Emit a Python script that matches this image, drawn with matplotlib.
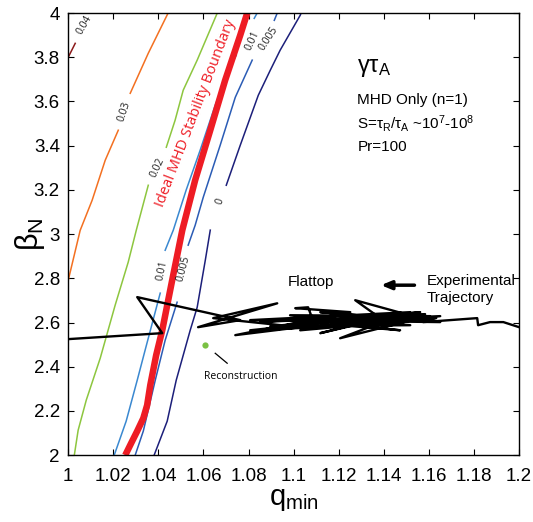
import numpy as np
import matplotlib
matplotlib.use('Agg')
from matplotlib import pyplot as plt

plt.rcParams['font.family'] = ['Liberation Sans', 'DejaVu Sans']
plt.rcParams['mathtext.fontset'] = 'custom'
plt.rcParams['mathtext.rm'] = 'Liberation Sans'
plt.rcParams['mathtext.it'] = 'Liberation Sans'

# growth-rate contours (q_min, beta_N), split where the inline label sits
c004_q = [1.0, 1.0031]
c004_b = [3.80, 3.863]

c003_q = [[1.0, 1.0053, 1.0106, 1.0164, 1.0222], [1.0275, 1.0355, 1.0443]]
c003_b = [[2.791, 3.017, 3.153, 3.334, 3.470], [3.637, 3.818, 4.0]]

c002_q = [[1.0027, 1.0044, 1.0080, 1.0142, 1.0208, 1.0266, 1.0302, 1.0355],
          [1.0435, 1.0474, 1.0510, 1.0572, 1.0661]]
c002_b = [[2.0, 2.113, 2.249, 2.439, 2.678, 2.873, 3.018, 3.221],
          [3.393, 3.515, 3.651, 3.787, 4.0]]

c001_q = [[1.0204, 1.0257, 1.0306, 1.0341, 1.0408],
          [1.0430, 1.0466, 1.0523, 1.0585, 1.0652, 1.0710, 1.0745],
          [1.0825, 1.0838]]
c001_b = [[2.0, 2.154, 2.339, 2.475, 2.733],
          [2.927, 3.018, 3.199, 3.379, 3.583, 3.741, 3.809],
          [3.976, 4.0]]

c0005_q = [[1.0297, 1.0333, 1.0386, 1.0430, 1.0483],
           [1.0532, 1.0563, 1.0599, 1.0674, 1.0741, 1.0816],
           [1.0914, 1.0927]]
c0005_b = [[2.0, 2.109, 2.339, 2.520, 2.692],
           [2.950, 3.040, 3.167, 3.402, 3.619, 3.787],
           [3.967, 4.0]]

c0_q = [[1.0381, 1.0439, 1.0479, 1.0541, 1.0572, 1.0608, 1.0630],
        [1.0701, 1.0763, 1.0843, 1.0896, 1.0940, 1.1029, 1.1033]]
c0_b = [[2.0, 2.154, 2.339, 2.565, 2.669, 2.882, 3.018],
        [3.221, 3.402, 3.628, 3.741, 3.832, 3.990, 4.0]]

# ideal MHD boundary
ideal_q = [1.0253, 1.0279, 1.0306, 1.0333, 1.0350, 1.0364, 1.0390, 1.0417,
           1.0461, 1.0506, 1.0563, 1.0630, 1.0696, 1.0763, 1.0794]
ideal_b = [2.0, 2.054, 2.109, 2.167, 2.226, 2.317, 2.452, 2.565,
           2.791, 3.018, 3.244, 3.470, 3.696, 3.900, 4.0]

# experimental trajectory
traj_q = [1.0, 1.0417, 1.0306, 1.0763, 1.0576, 1.0927, 1.0643, 1.1029, 1.0741,
          1.1251, 1.1007, 1.1064, 1.1082, 1.0851, 1.1472, 1.1206, 1.1561, 1.1273,
          1.1384, 1.1118, 1.1517, 1.0807, 1.1605, 1.1029, 1.1650, 1.1295,
          1.0807, 1.1561, 1.0896, 1.1517, 1.0984, 1.1605, 1.1162, 1.1472,
          1.0940, 1.1650, 1.1118, 1.1539, 1.1029, 1.1583, 1.1228, 1.1632,
          1.1574, 1.1814, 1.1818, 1.1871, 1.1930, 1.2]
traj_b = [2.525, 2.552, 2.715, 2.611, 2.579, 2.687, 2.620, 2.579, 2.543,
          2.647, 2.665, 2.669, 2.620, 2.602, 2.633, 2.529, 2.620, 2.701,
          2.620, 2.552, 2.647, 2.611, 2.611, 2.602, 2.629, 2.588,
          2.565, 2.647, 2.583, 2.588, 2.633, 2.629, 2.602, 2.565,
          2.611, 2.602, 2.647, 2.611, 2.565, 2.638, 2.629, 2.620,
          2.602, 2.620, 2.588, 2.602, 2.602, 2.579]

recon_q, recon_b = 1.0608, 2.497

fig = plt.figure(figsize=(5.33, 5.22), dpi=100)
ax = fig.add_axes([0.128, 0.128, 0.846, 0.847])

ax.plot(c004_q, c004_b, color='#8b1a1a', lw=1.1)
for qs, bs in zip(c003_q, c003_b):
    ax.plot(qs, bs, color='#f37021', lw=1.1)
for qs, bs in zip(c002_q, c002_b):
    ax.plot(qs, bs, color='#8dc63f', lw=1.1)
for qs, bs in zip(c001_q, c001_b):
    ax.plot(qs, bs, color='#3a88d0', lw=1.1)
for qs, bs in zip(c0005_q, c0005_b):
    ax.plot(qs, bs, color='#2b5cb5', lw=1.1)
for qs, bs in zip(c0_q, c0_b):
    ax.plot(qs, bs, color='#1c1f7a', lw=1.1)

ax.plot(ideal_q, ideal_b, color='#ee1c24', lw=4.7, solid_capstyle='butt')
ax.plot(traj_q, traj_b, color='black', lw=1.7)
ax.plot(recon_q, recon_b, 'o', color='#7ac143', ms=4.5, mec='none')

# contour labels
labels = [('0.04', 1.0072, 3.945, 60), ('0.03', 1.0250, 3.553, 72),
          ('0.02', 1.0397, 3.300, 65), ('0.01', 1.0417, 2.835, 78),
          ('0.005', 1.0510, 2.845, 75), ('0', 1.0672, 3.150, 70),
          ('0.01', 1.0818, 3.875, 65), ('0.005', 1.0888, 3.885, 57)]
for txt, q, b, rot in labels:
    ax.text(q, b, txt, fontsize=7.5, rotation=rot, ha='center', va='center',
            family='Open Sans', color='#222222')

ax.text(1.0565, 3.545, 'Ideal MHD Stability Boundary', color='#ee1c24',
        fontsize=10.5, rotation=69, ha='center', va='center', family='Open Sans')

ax.text(1.1280, 3.750, r'$\gamma\tau_A$', fontsize=17, va='center')
ax.text(1.1282, 3.606, 'MHD Only (n=1)', fontsize=11, va='center')
ax.text(1.1282, 3.502, r'S=$\tau_R$/$\tau_A$ ~10$^7$-10$^8$', fontsize=11, va='center')
ax.text(1.1282, 3.393, 'Pr=100', fontsize=11, va='center')

ax.text(1.1075, 2.782, 'Flattop', fontsize=11, ha='center', va='center')
ax.text(1.1590, 2.787, 'Experimental', fontsize=11, va='center')
ax.text(1.1590, 2.712, 'Trajectory', fontsize=11, va='center')
ax.annotate('', xy=(1.1375, 2.769), xytext=(1.1548, 2.769),
            arrowprops=dict(arrowstyle='-|>,head_length=0.6,head_width=0.25',
                            color='black', lw=2.5))

ax.plot([1.0652, 1.0705], [2.461, 2.416], color='black', lw=0.9)
ax.text(1.0767, 2.357, 'Reconstruction', fontsize=7.5, ha='center', va='center',
        family='Open Sans')

ax.set_xlim(1, 1.2)
ax.set_ylim(2, 4)
ax.set_xticks(np.arange(1.0, 1.2001, 0.02))
ax.set_xticklabels(['1', '1.02', '1.04', '1.06', '1.08', '1.1', '1.12', '1.14',
                    '1.16', '1.18', '1.2'])
ax.set_yticks(np.arange(2.0, 4.001, 0.2))
ax.set_yticklabels(['2', '2.2', '2.4', '2.6', '2.8', '3', '3.2', '3.4', '3.6',
                    '3.8', '4'])
ax.tick_params(direction='in', top=True, right=True, length=4, width=0.8,
               labelsize=13.5)
ax.tick_params(axis='x', pad=9)
ax.tick_params(axis='y', pad=6)
for sp in ax.spines.values():
    sp.set_linewidth(1.0)

ax.set_xlabel(r'q$_{\rm min}$', fontsize=21)
ax.set_ylabel(r'$\beta_{\rm N}$', fontsize=22)
ax.yaxis.set_label_coords(-0.048, 0.5)
ax.xaxis.set_label_coords(0.5, -0.067)
ax.xaxis.label.set_va('top')

fig.savefig('out.png', dpi=100)
